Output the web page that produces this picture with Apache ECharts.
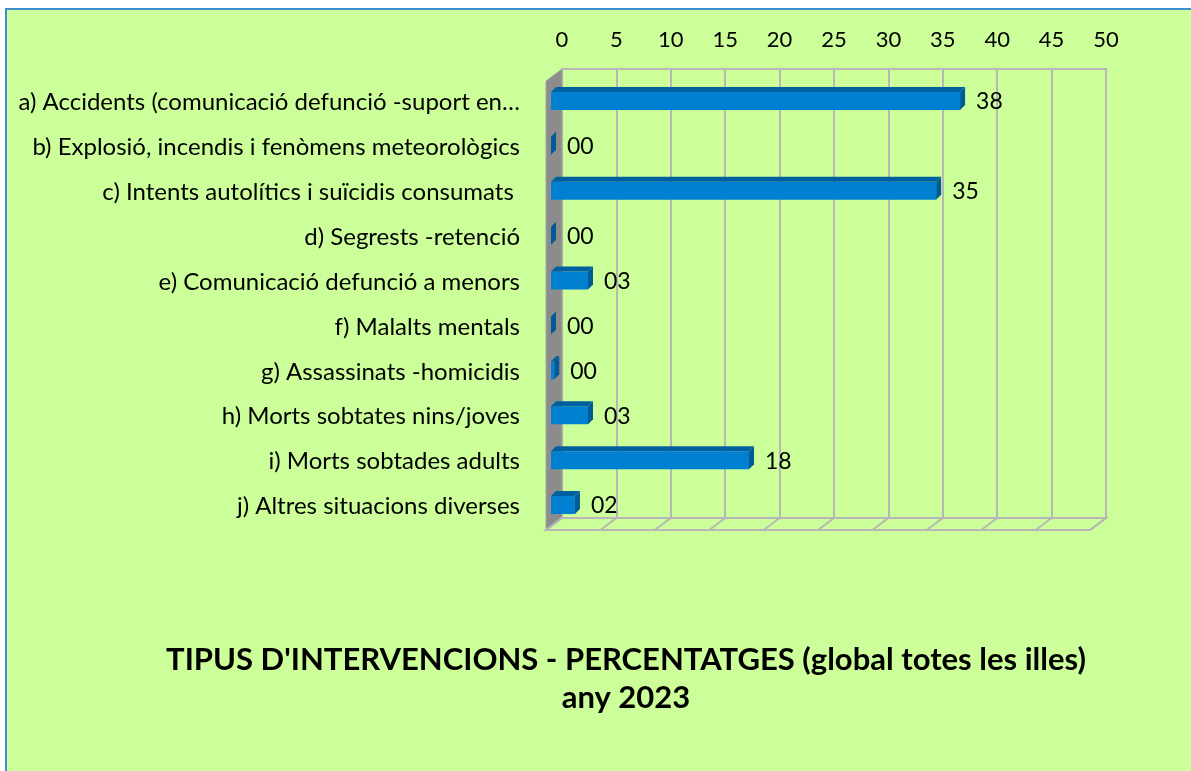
<!DOCTYPE html>
<html lang="ca">
<head>
    <meta charset="UTF-8">
    <title>Tipus d'intervencions 2023</title>
    <script src="https://cdn.jsdelivr.net/npm/echarts@6/dist/echarts.min.js"></script>
    <style>
        body {
            margin: 0;
            background: #fff;
        }

        #card {
            position: absolute;
            left: 5px;
            top: 8px;
            width: 1200px;
            height: 800px;
            background: #ccff99;
            border-left: 2px solid #3d8fd1;
            border-top: 2px solid #3d8fd1;
        }

        #chart {
            position: absolute;
            left: 0;
            top: 0;
            width: 1191px;
            height: 771px;
        }
    </style>
</head>
<body>
    <div id="card"></div>
    <div id="chart"></div>

    <script>
        const categories = [
            'a) Accidents (comunicació defunció -suport en…',
            'b) Explosió, incendis i fenòmens meteorològics',
            'c) Intents autolítics i suïcidis consumats ',
            'd) Segrests -retenció',
            'e) Comunicació defunció a menors',
            'f) Malalts mentals',
            'g) Assassinats -homicidis',
            'h) Morts sobtates nins/joves',
            'i) Morts sobtades adults',
            'j) Altres situacions diverses'
        ]
        const percentages = [37.6, 0, 35.4, 0, 3.4, 0, 0.3, 3.4, 18.2, 2.2]
        const xTicks = [0, 5, 10, 15, 20, 25, 30, 35, 40, 45, 50]

        const font = 'Lato, "Open Sans", sans-serif'
        const gridColor = '#b7b7b7'

        // depth of the 3D box (floor / left wall)
        const depthX = -16, depthY = 12

        function renderBox(params, api) {
            const cs = params.coordSys
            const x = cs.x, y = cs.y, w = cs.width, h = cs.height
            const children = [{
                type: 'polygon',
                shape: { points: [[x + depthX, y + depthY], [x, y], [x, y + h], [x + depthX, y + h + depthY]] },
                style: { fill: '#8c8c8c', stroke: '#a6a6a6', lineWidth: 1 }
            }, {
                type: 'polygon',
                shape: { points: [[x, y + h], [x + w, y + h], [x + w + depthX, y + h + depthY], [x + depthX, y + h + depthY]] },
                style: { fill: 'none', stroke: gridColor, lineWidth: 2 }
            }]
            xTicks.forEach(t => {
                const px = api.coord([t, 0])[0]
                children.push({
                    type: 'line',
                    shape: { x1: px, y1: y + h, x2: px + depthX, y2: y + h + depthY },
                    style: { stroke: gridColor, lineWidth: 2 }
                })
            })
            return { type: 'group', children: children }
        }

        function renderBar(params, api) {
            const v = api.value(0)
            const i = api.value(1)
            const p0 = api.coord([0, i])
            const p1 = api.coord([v, i])
            const x0 = p0[0] - 11, x1 = p1[0] - 11
            const top = p0[1] + 0.5, bot = p0[1] + 18.5
            return {
                type: 'group',
                children: [{
                    type: 'rect',
                    shape: { x: x0, y: top, width: x1 - x0, height: bot - top },
                    style: { fill: '#0080d0' }
                }, {
                    type: 'polygon',
                    shape: { points: [[x0, top], [x1, top], [x1 + 5, top - 5], [x0 + 5, top - 5]] },
                    style: { fill: '#00609f' }
                }, {
                    type: 'polygon',
                    shape: { points: [[x1, top], [x1 + 5, top - 5], [x1 + 5, bot - 5], [x1, bot]] },
                    style: { fill: '#005a96' }
                }, {
                    type: 'text',
                    style: {
                        x: x1 + 16,
                        y: (top + bot) / 2 + 1,
                        text: String(Math.round(v)).padStart(2, '0'),
                        fill: '#000',
                        font: '23px ' + font,
                        verticalAlign: 'middle'
                    }
                }]
            }
        }

        const chart = echarts.init(document.getElementById('chart'))

        chart.setOption({
            animation: false,
            backgroundColor: 'transparent',
            title: {
                text: "TIPUS D'INTERVENCIONS - PERCENTATGES (global totes les illes)\nany 2023",
                left: 621,
                top: 636,
                textAlign: 'center',
                textStyle: {
                    fontFamily: font,
                    fontSize: 31,
                    fontWeight: 'bold',
                    lineHeight: 38,
                    color: '#000'
                }
            },
            grid: {
                left: 562,
                right: 85,
                top: 69,
                bottom: 253,
                show: true,
                borderColor: gridColor,
                borderWidth: 2,
                backgroundColor: 'transparent'
            },
            xAxis: {
                type: 'value',
                position: 'top',
                min: 0,
                max: 50,
                interval: 5,
                axisLine: { show: false },
                axisTick: { show: false },
                axisLabel: { color: '#000', fontSize: 22, fontFamily: font, margin: 18 },
                splitLine: { lineStyle: { color: gridColor, width: 2 } }
            },
            yAxis: {
                type: 'category',
                inverse: true,
                data: categories,
                axisLine: { show: false },
                axisTick: { show: false },
                splitLine: { show: false },
                axisLabel: {
                    color: '#000',
                    fontSize: 24,
                    fontFamily: font,
                    margin: 42,
                    verticalAlign: 'top',
                    lineHeight: 22
                }
            },
            series: [{
                type: 'custom',
                silent: true,
                clip: false,
                z: 1,
                renderItem: renderBox,
                data: [[0, 0]]
            }, {
                type: 'custom',
                silent: true,
                clip: false,
                z: 2,
                renderItem: renderBar,
                data: percentages.map((v, i) => [v, i])
            }]
        })
    </script>
</body>
</html>
